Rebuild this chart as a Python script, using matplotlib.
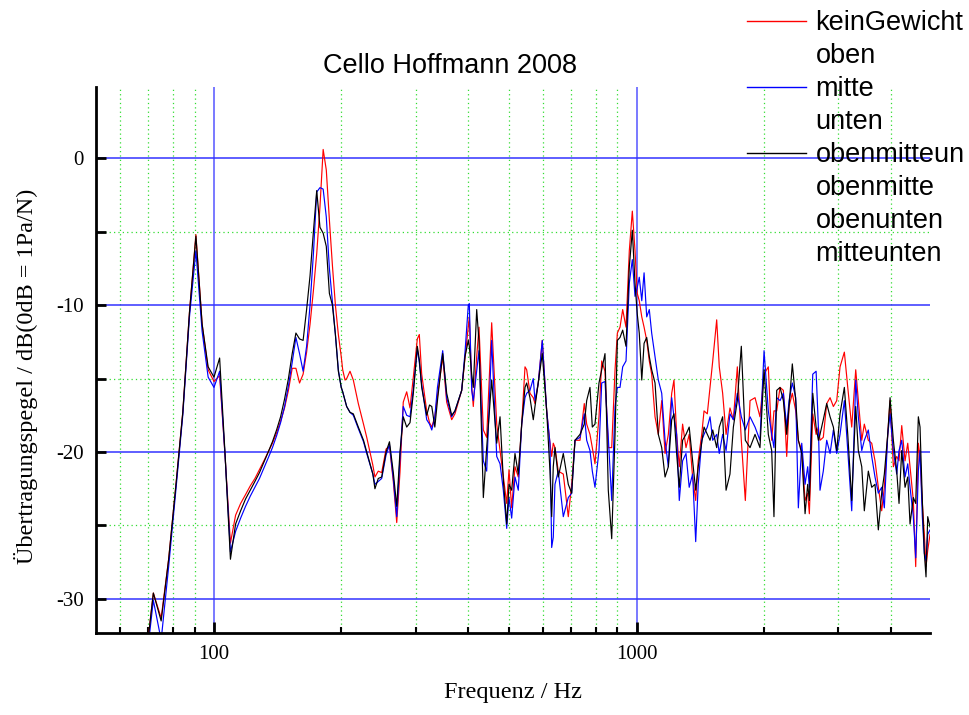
import matplotlib
matplotlib.use("Agg")
import matplotlib.pyplot as plt
from matplotlib.lines import Line2D
from matplotlib.ticker import FixedLocator, NullFormatter

plt.rcParams["axes.unicode_minus"] = False

# frequency points (Hz)
freq_hz = [
    68.75, 71.875, 75.0, 78.125, 81.25, 84.375, 87.5, 90.625, 93.75, 96.875,
    100.0, 103.125, 106.25, 109.375, 112.5, 115.625, 118.75, 121.875, 125.0, 128.125,
    131.25, 134.375, 137.5, 140.625, 143.75, 146.875, 150.0, 153.125, 156.25, 159.375,
    162.5, 165.625, 168.75, 171.875, 175.0, 178.125, 181.25, 184.375, 187.5, 190.625,
    193.75, 196.875, 200.0,
    201.6, 204.2, 206.0, 209.8, 213.6, 219.5, 225.8, 229.8, 237.6, 240.3,
    244.7, 249.3, 255.3, 260.1, 265.6, 270.6, 275.4, 280.4, 285.7, 290.9,
    296.2, 302.7, 306.0, 310.0, 318.6, 323.5, 327.5, 333.0, 337.8, 347.6,
    355.2, 365.0,
    371.6, 385.5, 392.5, 399.6, 401.8, 407.1, 410.6, 418.3, 423.6, 433.7,
    441.7, 453.9, 466.5, 475.0, 483.6, 492.6, 498.8, 506.1, 515.3, 524.7,
    534.5, 544.2, 549.2, 559.1, 569.3, 574.6, 585.0, 597.9, 612.4, 623.5,
    629.3, 634.8, 640.7, 652.3, 670.4, 688.9, 701.7, 714.5, 734.3, 751.6,
    761.5, 775.3, 785.2, 796.7, 814.3,
    826.4, 841.4, 856.6, 872.7, 888.7, 900.0, 913.1, 926.5, 943.4, 960.5,
    976.4, 990.8, 1003, 1014, 1028, 1041, 1056, 1071, 1085, 1105,
    1125, 1146, 1167, 1188, 1210, 1225, 1243, 1261, 1284, 1308,
    1331, 1356, 1379, 1398, 1425, 1443, 1469, 1491, 1513, 1546,
    1568, 1597, 1627, 1662, 1693, 1730, 1768, 1807, 1854, 1905,
    1957, 2001,
    2048, 2086, 2112, 2144, 2183, 2223, 2264, 2293, 2334, 2378,
    2412, 2457, 2502, 2538, 2561, 2609, 2657, 2690, 2714, 2763,
    2815, 2867, 2919, 2973, 3027, 3099, 3157, 3226, 3297, 3344,
    3407, 3455, 3531, 3597, 3662, 3729, 3798, 3853, 3925, 3975,
    4047, 4122, 4174, 4236, 4313, 4377, 4432, 4512, 4571, 4637,
    4680, 4739, 4791, 4835, 4880, 4942,
]

# keinGewicht (red)
kein_gewicht_db = [
    -34.5, -29.6, -31.3, -27.3, -22.3, -17.3, -10.5, -5.2, -11.3, -14.4,
    -15.2, -14.8, -20.3, -26.2, -24.3, -23.5, -22.9, -22.3, -21.8, -21.2,
    -20.6, -20.0, -19.4, -18.7, -17.9, -17.0, -15.8, -14.3, -14.3, -15.3,
    -14.7, -13.2, -11.3, -9.0, -6.5, -3.3, 0.6, -0.8, -4.2, -7.3,
    -10.0, -12.0, -13.5,
    -14.4, -15.1, -15.0, -14.5, -15.1, -16.7, -18.1, -19.0, -20.9, -21.7,
    -21.3, -21.4, -19.8, -19.6, -22.0, -24.8, -21.4, -16.6, -15.9, -17.0,
    -14.9, -12.3, -12.0, -14.7, -17.2, -18.0, -18.3, -17.6, -16.2, -13.5,
    -16.6, -17.8,
    -17.4, -15.8, -13.6, -11.5, -10.8, -15.5, -16.9, -13.5, -11.5, -18.5,
    -19.0, -11.2, -18.1, -19.9, -21.7, -23.5, -21.2, -23.8, -21.0, -21.7,
    -18.1, -14.2, -14.4, -16.0, -16.3, -16.7, -15.3, -12.4, -17.2, -19.4,
    -20.3, -19.4, -19.7, -21.3, -21.5, -24.4, -22.2, -19.2, -19.2, -16.7,
    -18.1, -18.8, -19.7, -20.8, -17.6,
    -13.8, -14.5, -19.7, -19.7, -14.4, -11.9, -11.5, -10.3, -11.5, -6.3,
    -3.6, -6.3, -9.2, -9.7, -10.8, -11.5, -12.4, -13.8, -14.7, -17.6,
    -18.8, -16.5, -20.1, -18.8, -16.0, -15.1, -18.8, -21.0, -18.1, -19.7,
    -18.8, -21.7, -23.3, -20.6, -18.8, -17.2, -17.4, -15.6, -13.8, -11.0,
    -14.2, -16.0, -18.8, -17.0, -17.8, -14.2, -19.2, -23.3, -16.5, -16.3,
    -17.6, -14.7,
    -14.2, -19.2, -17.2, -17.2, -15.6, -15.8, -20.3, -16.9, -16.0, -17.2,
    -19.2, -19.9, -23.3, -22.8, -24.2, -17.4, -18.8, -18.3, -19.2, -19.0,
    -16.7, -16.3, -16.9, -16.5, -14.2, -13.2, -15.6, -18.3, -14.4, -16.5,
    -19.2, -18.1, -19.2, -19.4, -20.6, -22.4, -24.0, -22.4, -18.8, -16.5,
    -21.0, -20.3, -20.6, -18.2, -20.6, -19.4, -21.0, -23.3, -27.8, -19.4,
    -20.3, -23.5, -25.6, -27.8, -26.7, -25.6,
]

# mitte (blue)
mitte_db = [
    -35.0, -30.1, -32.8, -27.8, -22.6, -17.5, -10.8, -6.3, -11.8, -14.9,
    -15.6, -14.5, -20.3, -26.8, -25.4, -24.5, -23.7, -23.0, -22.4, -21.8,
    -21.1, -20.4, -19.7, -18.9, -18.0, -16.9, -15.5, -13.9, -12.2, -13.3,
    -14.5, -12.8, -10.0, -6.5, -2.3, -2.0, -2.1, -4.0, -7.5, -9.8,
    -12.0, -14.4, -15.6,
    -15.9, -16.5, -16.9, -17.3, -17.5, -18.4, -19.3, -20.1, -21.5, -22.2,
    -22.0, -21.8, -20.2, -19.5, -21.8, -24.4, -20.4, -16.9, -17.5, -17.6,
    -15.7, -13.0, -13.9, -15.4, -17.8, -18.1, -18.5, -17.6, -15.6, -13.1,
    -16.3, -17.6,
    -17.2, -15.8, -13.2, -10.0, -9.9, -15.8, -16.5, -14.5, -13.1, -20.6,
    -21.3, -12.4, -20.3, -20.8, -22.6, -25.2, -23.1, -24.5, -21.7, -22.6,
    -18.1, -16.3, -16.0, -15.8, -15.0, -16.5, -15.3, -12.4, -17.2, -19.4,
    -26.5, -25.8, -22.2, -21.3, -24.4, -23.1, -22.8, -19.2, -19.0, -17.4,
    -19.2, -19.9, -21.3, -22.4, -19.9,
    -15.3, -15.2, -19.0, -23.3, -16.9, -15.6, -15.6, -14.2, -13.8, -8.5,
    -6.9, -9.4, -8.8, -8.1, -9.7, -7.8, -10.8, -10.3, -11.9, -13.5,
    -15.1, -16.0, -19.2, -21.0, -16.3, -17.6, -18.8, -23.3, -20.6, -20.1,
    -22.4, -21.5, -26.1, -22.2, -19.2, -18.8, -18.3, -17.6, -19.2, -18.8,
    -20.1, -18.8, -19.9, -17.4, -17.8, -16.0, -17.6, -18.5, -17.6, -18.3,
    -19.2, -13.1,
    -17.2, -18.8, -19.7, -16.3, -16.5, -16.0, -18.3, -16.5, -15.3, -16.3,
    -23.8, -19.4, -22.2, -21.0, -22.4, -14.7, -14.5, -18.3, -22.6, -21.3,
    -19.2, -20.1, -18.5, -20.1, -18.8, -16.5, -19.9, -24.0, -15.1, -17.6,
    -19.9, -19.2, -18.5, -20.3, -21.7, -22.8, -22.4, -23.8, -18.8, -17.4,
    -19.9, -21.5, -19.9, -19.2, -21.7, -20.8, -22.4, -24.4, -27.2, -21.3,
    -19.9, -24.4, -26.9, -27.4, -25.6, -25.3,
]

# obenmitteun (black)
obenmitteun_db = [
    -34.5, -29.6, -31.5, -27.3, -22.3, -17.3, -10.5, -5.3, -11.3, -14.2,
    -14.9, -13.6, -20.2, -27.3, -24.9, -24.0, -23.2, -22.6, -22.0, -21.4,
    -20.7, -20.0, -19.3, -18.5, -17.6, -16.4, -15.0, -13.3, -11.9, -12.3,
    -12.4, -10.3, -8.0, -5.0, -2.2, -4.7, -5.1, -6.0, -9.2, -10.0,
    -12.0, -14.5, -15.6,
    -15.9, -16.5, -16.9, -17.3, -17.4, -18.3, -19.2, -20.0, -21.5, -22.5,
    -21.8, -21.7, -20.0, -19.3, -21.4, -23.7, -20.0, -17.6, -18.3, -18.0,
    -16.0, -12.8, -13.7, -15.6, -17.5, -16.8, -16.9, -18.3, -16.5, -13.3,
    -16.0, -17.5,
    -17.2, -15.8, -13.5, -12.4, -12.8, -14.7, -15.6, -10.3, -12.5, -23.1,
    -19.7, -15.1, -19.4, -17.6, -21.9, -24.9, -22.2, -22.6, -20.1, -21.5,
    -18.1, -15.6, -15.3, -16.3, -17.8, -16.9, -15.3, -13.3, -17.2, -21.3,
    -24.4, -21.0, -19.7, -21.7, -20.1, -22.2, -22.8, -19.2, -18.8, -18.1,
    -16.5, -15.6, -18.3, -18.1, -15.3,
    -14.4, -13.3, -22.6, -25.9, -18.8, -12.4, -12.2, -11.7, -12.8, -7.4,
    -4.9, -8.5, -10.6, -11.9, -15.1, -12.6, -12.2, -13.5, -14.4, -15.3,
    -18.8, -19.7, -21.7, -21.0, -17.8, -17.4, -20.1, -22.4, -19.2, -18.8,
    -18.3, -20.6, -22.6, -21.0, -19.4, -18.3, -18.8, -19.2, -18.5, -19.7,
    -18.3, -17.6, -22.6, -21.5, -18.3, -16.5, -12.8, -19.2, -19.7, -18.8,
    -19.7, -14.4,
    -18.8, -19.9, -24.4, -15.8, -15.6, -16.5, -18.8, -16.9, -14.0, -16.5,
    -19.2, -20.1, -24.2, -22.2, -23.3, -16.0, -18.3, -19.2, -18.8, -17.8,
    -16.7, -17.6, -18.3, -19.9, -17.4, -15.6, -18.8, -23.3, -16.9, -19.9,
    -21.0, -24.0, -21.3, -22.4, -22.2, -25.3, -22.8, -21.5, -18.8, -16.3,
    -19.2, -21.3, -23.5, -19.9, -22.4, -21.7, -24.9, -23.1, -23.5, -17.6,
    -18.3, -23.3, -26.9, -28.5, -24.4, -25.1,
]

legend_labels = ["keinGewicht", "oben", "mitte", "unten",
                 "obenmitteun", "obenmitte", "obenunten", "mitteunten"]
legend_colors = ["#ff0000", "none", "#0000ff", "none",
                 "#000000", "none", "none", "none"]

x_major = [100, 1000]
x_minor = [60, 70, 80, 90, 200, 300, 400, 500, 600, 700, 800, 900,
           2000, 3000, 4000]
y_labeled = [-30, -20, -10, 0]
y_unlabeled = [-25, -15, -5]


def main() -> None:
    fig = plt.figure(figsize=(9.7, 7.15), dpi=100)
    ax = fig.add_axes([0.099, 0.1151, 0.8598, 0.7632])

    ax.set_xscale("log")
    ax.set_xlim(52.6, 4942)
    ax.set_ylim(-32.3, 4.85)

    # grid drawn by hand to get the blue / green mix of the original
    for x in x_minor:
        ax.axvline(x, color="#33dd33", lw=0.9, ls=(0, (1, 2.5)), zorder=0)
    for y in y_unlabeled:
        ax.axhline(y, color="#33dd33", lw=0.9, ls=(0, (1, 2.5)), zorder=0)
    for x in x_major:
        ax.axvline(x, color="#5555ff", lw=1.1, zorder=0)
    for y in y_labeled:
        ax.axhline(y, color="#3333ff", lw=1.1, zorder=0)

    ax.plot(freq_hz, kein_gewicht_db, color="#ff0000", lw=0.85)
    ax.plot(freq_hz, mitte_db, color="#0000ff", lw=0.85)
    ax.plot(freq_hz, obenmitteun_db, color="#000000", lw=0.85)

    for side in ("top", "right"):
        ax.spines[side].set_visible(False)
    for side in ("left", "bottom"):
        ax.spines[side].set_linewidth(2)

    ax.xaxis.set_major_locator(FixedLocator(x_major))
    ax.xaxis.set_minor_locator(FixedLocator(x_minor))
    ax.xaxis.set_minor_formatter(NullFormatter())
    ax.set_xticklabels([str(v) for v in x_major])
    ax.yaxis.set_major_locator(FixedLocator(y_labeled))
    ax.yaxis.set_minor_locator(FixedLocator(y_unlabeled))
    ax.set_yticklabels([str(v) for v in y_labeled])

    ax.tick_params(axis="x", which="major", direction="in", length=8, width=2, pad=9)
    ax.tick_params(axis="x", which="minor", direction="in", length=4.5, width=1.5)
    ax.tick_params(axis="y", which="both", direction="in", length=7.5, width=2, pad=9)
    for lab in ax.get_xticklabels() + ax.get_yticklabels():
        lab.set_fontfamily("Liberation Serif")
        lab.set_fontsize(15)

    fig.text(0.4644, 0.907, "Cello Hoffmann 2008", ha="center", va="center",
             family="Liberation Sans", fontsize=19.5)
    fig.text(0.529, 0.032, "Frequenz / Hz", ha="center", va="center",
             family="Liberation Serif", fontsize=17.5)
    fig.text(0.027, 0.474, "Übertragungspegel / dB(0dB = 1Pa/N)", ha="center",
             va="center", rotation=90, family="Liberation Serif", fontsize=17.5)

    handles = [Line2D([], [], color=c, lw=1.0) for c in legend_colors]
    fig.legend(handles, legend_labels, loc="upper left",
               bbox_to_anchor=(0.770, 0.986), bbox_transform=fig.transFigure,
               frameon=False, prop={"family": "Liberation Sans", "size": 19.5},
               handlelength=2.2, handletextpad=0.33, labelspacing=0.26,
               borderpad=0, borderaxespad=0)

    fig.savefig("out.png", dpi=100)
    plt.close(fig)


if __name__ == "__main__":
    main()
